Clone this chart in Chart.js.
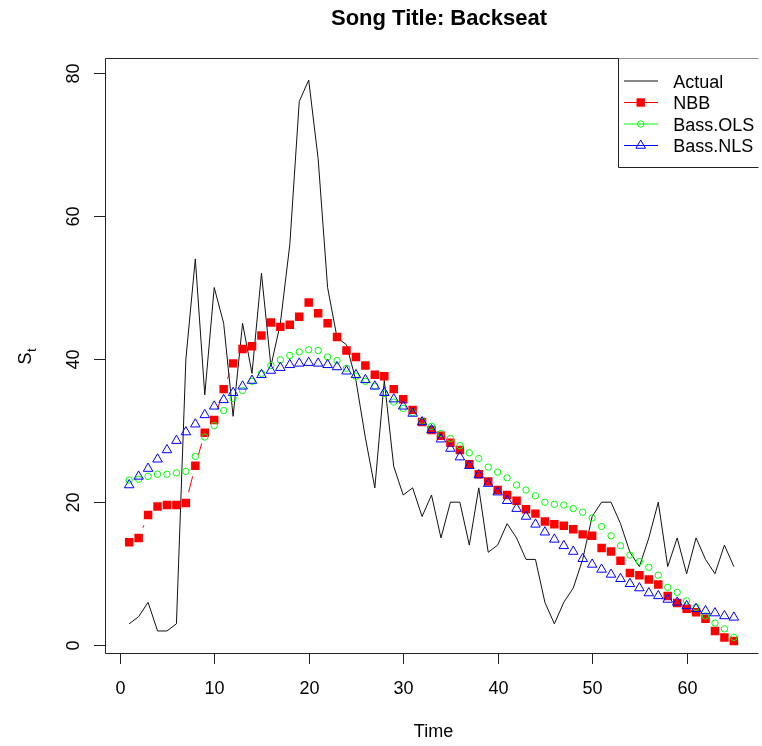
<!DOCTYPE html>
<html>
<head>
<meta charset="utf-8">
<title>Song Title: Backseat</title>
<script src="https://cdn.jsdelivr.net/npm/chart.js@4/dist/chart.umd.min.js"></script>
<style>
  body { margin: 0; background: #ffffff; }
  #wrap { width: 762px; height: 746px; }
</style>
</head>
<body>
<div id="wrap"><canvas id="songChart" width="762" height="746"></canvas></div>
<script>
// weekly observations and the three fitted diffusion curves
var timeSteps = [1,2,3,4,5,6,7,8,9,10,11,12,13,14,15,16,17,18,19,20,21,22,23,24,25,26,27,28,29,30,31,32,33,34,35,36,37,38,39,40,41,42,43,44,45,46,47,48,49,50,51,52,53,54,55,56,57,58,59,60,61,62,63,64,65];
var actualSales = [3,4,6,2,2,3,40,54,35,50,45,32,45,38,52,39,45,56,76,79,68,50,43,42,37,29,22,37,25,21,22,18,21,15,20,20,14,22,13,14,17,15,12,12,6,3,6,8,12,18,20,20,17,13,11,15,20,11,15,10,15,12,10,14,11];
var nbbFit = [14.4,15.0,18.2,19.4,19.6,19.6,19.9,25.1,29.7,31.5,35.8,39.4,41.4,41.8,43.3,45.1,44.5,44.8,45.9,47.9,46.4,45.0,43.1,41.2,40.3,39.1,37.8,37.6,35.8,34.4,32.9,31.2,30.1,29.3,28.3,27.3,25.3,23.9,22.9,21.7,21.0,20.2,19.0,18.4,17.3,16.9,16.7,16.2,15.5,15.3,13.6,13.1,11.8,10.1,9.8,9.2,8.5,6.9,5.9,5.1,4.6,3.7,2.0,1.1,0.6];
var bassOlsFit = [23.1,23.2,23.6,23.9,23.9,24.1,24.3,26.4,29.1,30.7,32.8,34.5,35.6,36.9,38.0,39.1,39.9,40.5,41.0,41.3,41.2,40.3,39.8,38.7,37.6,36.9,36.2,35.2,34.0,33.1,32.5,31.3,30.6,29.6,28.9,27.9,26.9,26.1,24.9,24.2,23.4,22.4,21.7,20.9,20.0,19.7,19.6,19.1,18.6,17.8,16.6,15.3,13.9,12.6,11.7,10.9,9.8,8.1,7.4,6.2,5.3,4.1,3.1,2.3,1.1];
var bassNlsFit = [22.4,23.6,24.7,26.0,27.3,28.6,29.8,30.9,32.2,33.4,34.3,35.3,36.2,37.0,37.8,38.4,38.8,39.2,39.4,39.5,39.4,39.2,38.9,38.3,37.8,37.1,36.2,35.3,34.4,33.4,32.4,31.2,30.1,28.8,27.5,26.3,25.1,23.8,22.6,21.4,20.2,19.1,18.0,16.9,15.8,14.8,13.9,13.1,12.1,11.3,10.6,9.9,9.3,8.6,8.0,7.3,6.9,6.4,6.0,5.5,5.1,4.8,4.5,4.1,3.9];
var seriesNames = ['Actual', 'NBB', 'Bass.OLS', 'Bass.NLS'];
var xTickValues = [0, 10, 20, 30, 40, 50, 60];
var yTickValues = [0, 20, 40, 60, 80];

var FONT = '"Liberation Sans", Arial, Helvetica, sans-serif';

function pairs(values) {
    return timeSteps.map(function(t, i) { return { x: t, y: values[i] }; });
}

// type="b" style: segments between points, cut back near each marker
var gapLines = {
    id: 'gapLines',
    beforeDatasetsDraw: function(chart) {
        var ctx = chart.ctx, area = chart.chartArea;
        ctx.save();
        ctx.beginPath();
        ctx.rect(area.left, area.top, area.right - area.left, area.bottom - area.top);
        ctx.clip();
        chart.data.datasets.forEach(function(ds, di) {
            if (!ds.gapLine) return;
            var pts = chart.getDatasetMeta(di).data;
            ctx.strokeStyle = ds.pointBorderColor;
            ctx.lineWidth = 1;
            for (var i = 1; i < pts.length; i++) {
                var dx = pts[i].x - pts[i - 1].x, dy = pts[i].y - pts[i - 1].y;
                var len = Math.sqrt(dx * dx + dy * dy);
                var gap = 11;
                if (len <= gap * 2) continue;
                var ux = dx / len, uy = dy / len;
                ctx.beginPath();
                ctx.moveTo(pts[i - 1].x + ux * gap, pts[i - 1].y + uy * gap);
                ctx.lineTo(pts[i].x - ux * gap, pts[i].y - uy * gap);
                ctx.stroke();
            }
        });
        ctx.restore();
    }
};

function drawMarker(ctx, style, x, y, color) {
    ctx.save();
    ctx.lineWidth = 1;
    ctx.strokeStyle = color;
    ctx.fillStyle = color;
    ctx.beginPath();
    if (style === 'rect') {
        ctx.fillRect(x - 4.2, y - 4.2, 8.4, 8.4);
    } else if (style === 'circle') {
        ctx.arc(x, y, 3.2, 0, Math.PI * 2);
        ctx.stroke();
    } else if (style === 'triangle') {
        var r = 5.5;
        ctx.moveTo(x, y - r);
        ctx.lineTo(x + r * Math.sqrt(3) / 2, y + r / 2);
        ctx.lineTo(x - r * Math.sqrt(3) / 2, y + r / 2);
        ctx.closePath();
        ctx.stroke();
    }
    ctx.restore();
}

// frame, axes, titles and legend in base-graphics style
var baseFrame = {
    id: 'baseFrame',
    afterDraw: function(chart) {
        var ctx = chart.ctx, area = chart.chartArea;
        var xs = chart.scales.x, ys = chart.scales.y;
        ctx.save();
        ctx.strokeStyle = '#222';
        ctx.fillStyle = '#000';
        ctx.lineWidth = 1;

        // box
        ctx.beginPath();
        ctx.moveTo(area.right + 3, area.top + 0.5);
        ctx.lineTo(area.left + 0.5, area.top + 0.5);
        ctx.lineTo(area.left + 0.5, area.bottom + 0.5);
        ctx.lineTo(area.right + 3, area.bottom + 0.5);
        ctx.stroke();

        // x axis
        ctx.font = '18px ' + FONT;
        ctx.textAlign = 'center';
        ctx.textBaseline = 'alphabetic';
        xTickValues.forEach(function(v) {
            var px = Math.round(xs.getPixelForValue(v)) + 0.5;
            ctx.beginPath();
            ctx.moveTo(px, area.bottom);
            ctx.lineTo(px, area.bottom + 11);
            ctx.stroke();
            ctx.fillText(String(v), px, 693.5);
        });

        // y axis, labels parallel to the axis
        yTickValues.forEach(function(v) {
            var py = Math.round(ys.getPixelForValue(v)) + 0.5;
            ctx.beginPath();
            ctx.moveTo(area.left, py);
            ctx.lineTo(area.left - 11, py);
            ctx.stroke();
            ctx.save();
            ctx.translate(78.8, py);
            ctx.rotate(-Math.PI / 2);
            ctx.fillText(String(v), 0, 0);
            ctx.restore();
        });

        // axis titles
        ctx.fillText('Time', 433.5, 736.5);
        ctx.save();
        ctx.translate(31, 357.5);
        ctx.rotate(-Math.PI / 2);
        ctx.textAlign = 'left';
        ctx.font = '18px ' + FONT;
        var sw = ctx.measureText('S').width;
        ctx.fillText('S', -sw / 2 - 1, 0);
        ctx.font = '13px ' + FONT;
        ctx.fillText('t', sw / 2 - 0.5, 4.5);
        ctx.restore();

        // main title
        ctx.font = 'bold 22px ' + FONT;
        ctx.textAlign = 'center';
        ctx.fillText('Song Title: Backseat', 439, 24.5);

        // legend
        var lx = 618.5, lTop = area.top + 0.5, lBottom = 167.5;
        ctx.fillStyle = '#ffffff';
        ctx.fillRect(lx, lTop, area.right + 5 - lx, lBottom - lTop);
        ctx.beginPath();
        ctx.moveTo(area.right + 3, lBottom);
        ctx.lineTo(lx, lBottom);
        ctx.lineTo(lx, lTop);
        ctx.stroke();
        var rowY = [80.5, 102, 123.5, 145];
        ctx.font = '18px ' + FONT;
        ctx.textAlign = 'left';
        chart.data.datasets.slice().sort(function(a, b) { return a.legendRank - b.legendRank; }).forEach(function(ds, i) {
            var y = rowY[i];
            var color = ds.legendColor;
            ctx.strokeStyle = color;
            ctx.beginPath();
            ctx.moveTo(624, y + 0.5);
            ctx.lineTo(658, y + 0.5);
            ctx.stroke();
            if (ds.legendMarker) drawMarker(ctx, ds.legendMarker, 640.7, y + 0.5, color);
            ctx.fillStyle = '#000';
            ctx.fillText(ds.label, 673.3, y + 7);
        });
        ctx.restore();
    }
};

var canvas = document.getElementById('songChart').getContext('2d');
var songChart = new Chart(canvas, {
    type: 'line',
    data: {
        datasets: [
            {
                label: seriesNames[3],
                data: pairs(bassNlsFit),
                showLine: false,
                gapLine: true,
                pointStyle: 'triangle',
                pointRadius: 5.5,
                pointBorderWidth: 1,
                pointBorderColor: '#0000ff',
                pointBackgroundColor: 'rgba(0,0,0,0)',
                legendColor: '#0000ff',
                legendMarker: 'triangle',
                legendRank: 3,
                order: 0
            },
            {
                label: seriesNames[2],
                data: pairs(bassOlsFit),
                showLine: false,
                gapLine: true,
                pointStyle: 'circle',
                pointRadius: 3.2,
                pointBorderWidth: 1,
                pointBorderColor: '#00ff00',
                pointBackgroundColor: 'rgba(0,0,0,0)',
                legendColor: '#00ff00',
                legendMarker: 'circle',
                legendRank: 2,
                order: 1
            },
            {
                label: seriesNames[1],
                data: pairs(nbbFit),
                showLine: false,
                gapLine: true,
                pointStyle: 'rect',
                pointRadius: 6,
                pointBorderWidth: 0,
                pointBorderColor: '#ff0000',
                pointBackgroundColor: '#ff0000',
                legendColor: '#ff0000',
                legendMarker: 'rect',
                legendRank: 1,
                order: 2
            },
            {
                label: seriesNames[0],
                data: pairs(actualSales),
                borderColor: '#111111',
                borderWidth: 1,
                pointRadius: 0,
                tension: 0,
                fill: false,
                legendColor: '#111111',
                legendMarker: null,
                legendRank: 0,
                order: 3
            }
        ]
    },
    options: {
        responsive: false,
        animation: false,
        devicePixelRatio: 1,
        events: [],
        layout: { padding: { left: 105, top: 58, right: 0, bottom: 93 } },
        scales: {
            x: { type: 'linear', min: -1.56, max: 67.29, display: false },
            y: { type: 'linear', min: -1.08, max: 82.08, display: false }
        },
        plugins: {
            legend: { display: false },
            title: { display: false },
            tooltip: { enabled: false }
        }
    },
    plugins: [gapLines, baseFrame]
});
</script>
</body>
</html>
